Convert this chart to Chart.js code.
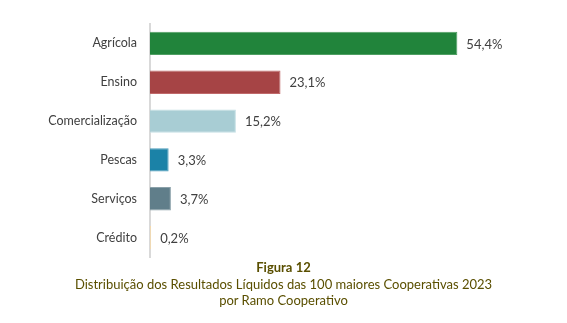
<!DOCTYPE html>
<html lang="pt">
<head>
<meta charset="utf-8">
<script src="https://cdn.jsdelivr.net/npm/chart.js@4"></script>
<style>
  html, body { margin: 0; padding: 0; background: #ffffff; }
  #wrap { position: relative; width: 567px; height: 323px; font-family: Lato, "Open Sans", sans-serif; }
  #chartBox { position: absolute; left: 0; top: 0; width: 567px; height: 260px; }
  #caption { position: absolute; left: 0; top: 259px; width: 567px; text-align: center; color: #5a4f00; font-size: 13px; line-height: 16.5px; }
  #caption b { font-weight: 700; }
</style>
</head>
<body>
<div id="wrap">
  <div id="chartBox"><canvas id="ramoChart"></canvas></div>
  <div id="caption">
    <b>Figura 12</b><br>
    Distribuição dos Resultados Líquidos das 100 maiores Cooperativas 2023<br>
    por Ramo Cooperativo
  </div>
</div>
<script>
// Ramos cooperativos e respetiva quota (%) dos resultados líquidos
const ramos = ["Agrícola", "Ensino", "Comercialização", "Pescas", "Serviços", "Crédito"];
const quotas = [54.4, 23.1, 15.2, 3.3, 3.7, 0.2];
const cores = ["#21843b", "#a64445", "#a8cdd4", "#1b82a7", "#607e8a", "#f7d9a8"];
const bordas = ["#4f9f63", "#c0696a", "#c4dfe4", "#4b9dbb", "#8aa0a9", "#f7d9a8"];

const fmtPct = (v) => v.toFixed(1).replace(".", ",") + "%";

// Escreve o valor à direita de cada barra
const valueLabels = {
  id: "valueLabels",
  afterDatasetsDraw(chart) {
    const { ctx } = chart;
    const meta = chart.getDatasetMeta(0);
    ctx.save();
    ctx.font = "13px Lato, 'Open Sans', sans-serif";
    ctx.fillStyle = "#404040";
    ctx.textBaseline = "middle";
    ctx.textAlign = "left";
    meta.data.forEach((bar, i) => {
      ctx.fillText(fmtPct(quotas[i]), bar.x + 9, bar.y + 1);
    });
    ctx.restore();
  },
};

const ctx = document.getElementById("ramoChart").getContext("2d");

new Chart(ctx, {
  type: "bar",
  data: {
    labels: ramos,
    datasets: [
      {
        data: quotas,
        backgroundColor: cores,
        borderColor: bordas,
        borderWidth: 1,
        categoryPercentage: 1,
        barPercentage: 0.6,
      },
    ],
  },
  options: {
    indexAxis: "y",
    responsive: true,
    maintainAspectRatio: false,
    animation: false,
    layout: {
      padding: { top: 24, right: 78, bottom: 3, left: 0 },
    },
    scales: {
      x: {
        min: 0,
        max: 60,
        display: false,
      },
      y: {
        // fixed label column, and no extra vertical padding from the tick labels
        afterFit: (scale) => {
          scale.width = 150;
          scale.paddingTop = 0;
          scale.paddingBottom = 0;
        },
        grid: { display: false, drawTicks: false },
        border: { display: true, color: "#d9d9d9", width: 2 },
        ticks: {
          padding: 13,
          color: "#404040",
          font: { family: "Lato, 'Open Sans', sans-serif", size: 12.5 },
        },
      },
    },
    plugins: {
      legend: { display: false },
      tooltip: { enabled: false },
    },
  },
  plugins: [valueLabels],
});
</script>
</body>
</html>
